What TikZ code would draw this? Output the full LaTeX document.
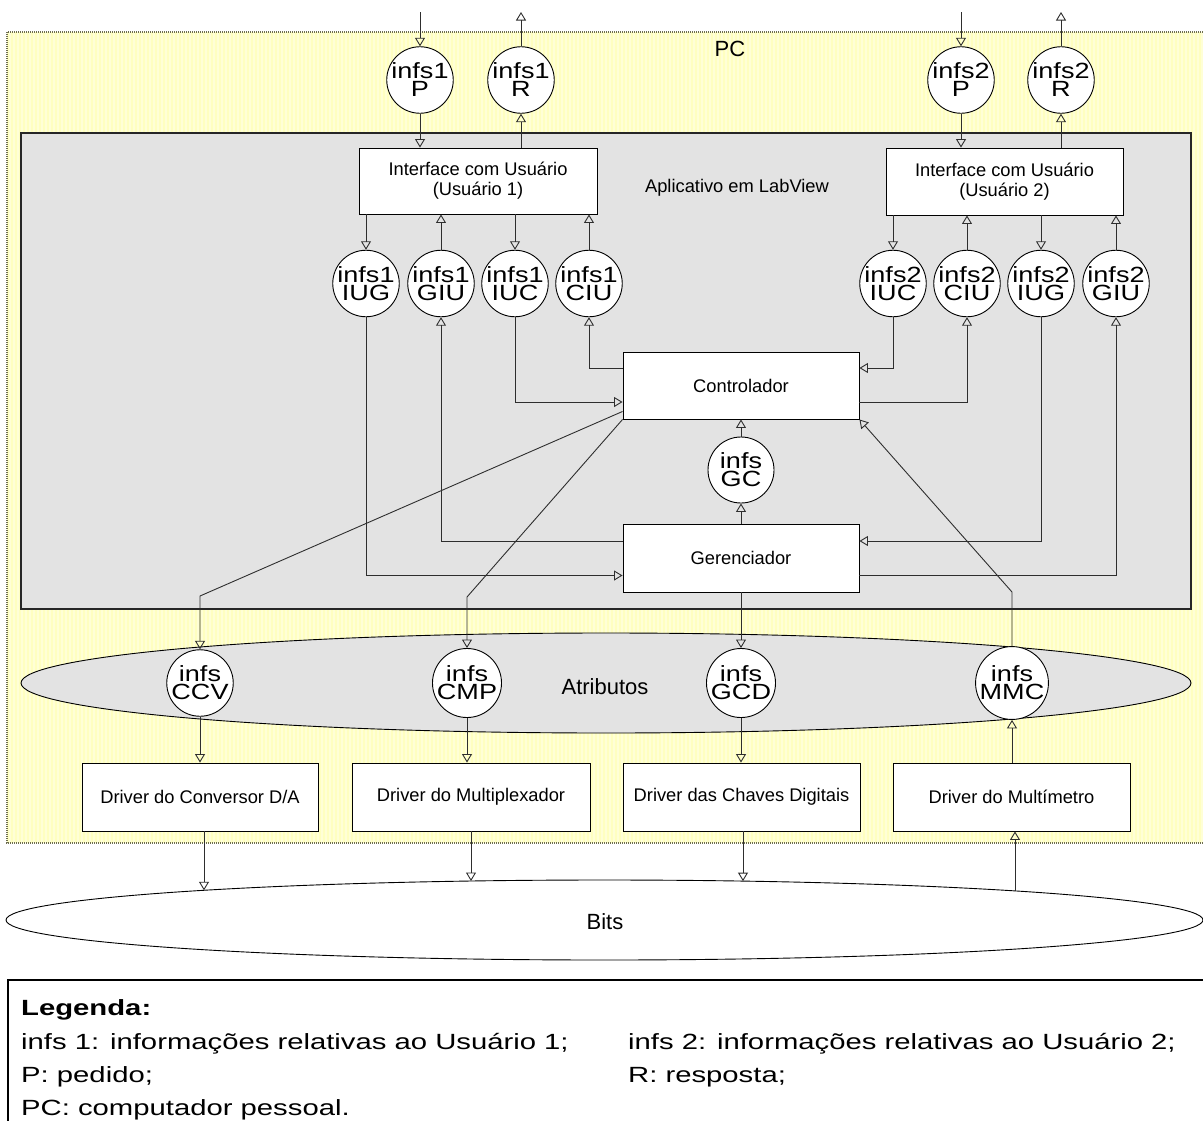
\documentclass[tikz,border=0pt]{standalone}
\usepackage{fontspec}
\setmainfont{Liberation Sans}
\newfontfamily\circfont[FakeStretch=1.23]{Liberation Sans}
\newfontfamily\legfont[FakeStretch=1.33]{Liberation Sans}
\usetikzlibrary{arrows.meta,shapes.geometric,calc}
\definecolor{pcyellow}{HTML}{FFFFC0}
\definecolor{pcstripe}{HTML}{FFFFD6}
\definecolor{pcborder}{HTML}{6E6E50}
\definecolor{appgray}{HTML}{E3E3E3}
\definecolor{wire}{HTML}{2E2E2E}

\begin{document}
\begin{tikzpicture}[x=1pt,y=-1pt,
  infc/.style={circle,draw=black,fill=white,line width=0.9pt,minimum size=66pt,
    inner sep=0pt,align=center,font=\circfont\fontsize{22}{18}\selectfont},
  procbox/.style={rectangle,draw=black,fill=white,line width=0.9pt,inner sep=0pt,
    align=center,font=\fontsize{18.3}{20}\selectfont},
  flow/.style={draw=wire,line width=0.9pt,-{Triangle[open,length=8.5pt,width=10pt]}},
  plaintext/.style={inner sep=0pt,font=\fontsize{22}{26}\selectfont},
  legtext/.style={inner sep=0pt,anchor=base west,font=\legfont\fontsize{22}{26}\selectfont},
]
\clip (0,0) rectangle (1203,1120);
\fill[white] (0,0) rectangle (1203,1120);

% PC area: pale yellow with fine vertical stripes and a dotted border
\fill[pcyellow] (7,32) rectangle (1215,843);
\foreach \sx in {9,13,...,1203} {
  \fill[pcstripe] (\sx,32) rectangle ++(1.6,811);
}
\draw[draw=pcborder,line width=1.2pt,dash pattern=on 1pt off 1pt]
  (7,32) rectangle (1215,843);
\node[plaintext] (pclab) at (730,49) {PC};

% LabView application
\filldraw[fill=appgray,draw=black!85,line width=1.3pt] (21,133) rectangle (1191,609);
\node[inner sep=0pt,font=\fontsize{18.3}{20}\selectfont] (applab) at (737,188) {Aplicativo em LabView};

% attributes and bits
\node[ellipse,draw=black,fill=appgray,line width=0.9pt,inner sep=0pt,
  minimum width=1170,minimum height=100] (attr) at (606,683) {};
\node[plaintext] (attrlab) at (605,687) {Atributos};
\node[ellipse,draw=black,fill=white,line width=0.9pt,inner sep=0pt,
  minimum width=1197,minimum height=80] (bits) at (604.5,920) {};
\node[plaintext] (bitslab) at (605,922) {Bits};

% processing boxes
\node[procbox,minimum width=238,minimum height=66] (ui1) at (478,181) {Interface com Usuário\\(Usuário 1)};
\node[procbox,minimum width=237,minimum height=67] (ui2) at (1004.5,181.5) {Interface com Usuário\\(Usuário 2)};
\node[procbox,minimum width=236,minimum height=67] (ctl) at (741,385.5) {Controlador};
\node[procbox,minimum width=236,minimum height=68] (ger) at (741,558) {Gerenciador};
\node[procbox,minimum width=236,minimum height=68] (drvA) at (200,797) {Driver do Conversor D/A};
\node[procbox,minimum width=238,minimum height=68] (drvB) at (471,797) {Driver do Multiplexador};
\node[procbox,minimum width=237,minimum height=68] (drvC) at (741.5,797) {Driver das Chaves Digitais};
\node[procbox,minimum width=237,minimum height=68] (drvD) at (1011.5,797) {Driver do Multímetro};

% information flows
\node[infc] (p1) at (420,80) {infs1\\P};
\node[infc] (r1) at (521,80) {infs1\\R};
\node[infc] (p2) at (961,80) {infs2\\P};
\node[infc] (r2) at (1061,80) {infs2\\R};
\node[infc] (a1) at (366,283.5) {infs1\\IUG};
\node[infc] (b1) at (441,283.5) {infs1\\GIU};
\node[infc] (c1) at (515,283.5) {infs1\\IUC};
\node[infc] (d1) at (589,283.5) {infs1\\CIU};
\node[infc] (c2) at (893,283.5) {infs2\\IUC};
\node[infc] (d2) at (967,283.5) {infs2\\CIU};
\node[infc] (a2) at (1041,283.5) {infs2\\IUG};
\node[infc] (b2) at (1116,283.5) {infs2\\GIU};
\node[infc] (gc) at (741,470) {infs\\GC};
\node[infc] (ccv) at (200,683) {infs\\CCV};
\node[infc] (cmp) at (467,683) {infs\\CMP};
\node[infc] (gcd) at (741,683) {infs\\GCD};
\node[infc] (mmc) at (1012,683) {infs\\MMC};

% free ends and bends
\coordinate (p1in) at (420,12);
\coordinate (r1out) at (521,12);
\coordinate (p2in) at (961,12);
\coordinate (r2out) at (1061,12);
\coordinate (kCCV) at (200,596);
\coordinate (kCMP) at (467,597);
\coordinate (kMMC) at (1012,592);
\coordinate (bA) at (204,890.3);
\coordinate (bB) at (471,881);
\coordinate (bC) at (743,881.1);
\coordinate (bD) at (1015,890.9);

% user requests and responses
\draw[flow] (p1in) -- (p1.north);
\draw[flow] (p1.south) -- (p1.south |- ui1.north);
\draw[flow] (r1.south |- ui1.north) -- (r1.south);
\draw[flow] (r1.north) -- (r1out);
\draw[flow] (p2in) -- (p2.north);
\draw[flow] (p2.south) -- (p2.south |- ui2.north);
\draw[flow] (r2.south |- ui2.north) -- (r2.south);
\draw[flow] (r2.north) -- (r2out);

% interface 1
\draw[flow] (a1.north |- ui1.south) -- (a1.north);
\draw[flow] (b1.north) -- (b1.north |- ui1.south);
\draw[flow] (c1.north |- ui1.south) -- (c1.north);
\draw[flow] (d1.north) -- (d1.north |- ui1.south);
% interface 2
\draw[flow] (c2.north |- ui2.south) -- (c2.north);
\draw[flow] (d2.north) -- (d2.north |- ui2.south);
\draw[flow] (a2.north |- ui2.south) -- (a2.north);
\draw[flow] (b2.north) -- (b2.north |- ui2.south);

% routes to controller and manager
\draw[flow] (a1.south) |- ($(ger.west)+(0,17.5)$);
\draw[flow] ($(ger.west)+(0,-17)$) -| (b1.south);
\draw[flow] (c1.south) |- ($(ctl.west)+(0,16.5)$);
\draw[flow] ($(ctl.west)+(0,-17.5)$) -| (d1.south);
\draw[flow] (c2.south) |- ($(ctl.east)+(0,-17.5)$);
\draw[flow] ($(ctl.east)+(0,16.5)$) -| (d2.south);
\draw[flow] (a2.south) |- ($(ger.east)+(0,-17)$);
\draw[flow] ($(ger.east)+(0,17.5)$) -| (b2.south);
\draw[flow] (ger.north) -- (gc.south);
\draw[flow] (gc.north) -- (ctl.south);

% attributes
\draw[flow] ($(ctl.south west)+(0,-8)$) -- (kCCV) -- (ccv.north);
\draw[flow] (ctl.south west) -- (kCMP) -- (cmp.north);
\draw[flow] (ger.south) -- (gcd.north);
\draw[flow] (mmc.north) -- (kMMC) -- (ctl.south east);

% drivers
\draw[flow] (ccv.south) -- (ccv.south |- drvA.north);
\draw[flow] (cmp.south) -- (cmp.south |- drvB.north);
\draw[flow] (gcd.south) -- (gcd.south |- drvC.north);
\draw[flow] (mmc.south |- drvD.north) -- (mmc.south);
\draw[flow] (drvA.south -| bA) -- (bA);
\draw[flow] (drvB.south -| bB) -- (bB);
\draw[flow] (drvC.south -| bC) -- (bC);
\draw[flow] (bD) -- (drvD.south -| bD);

% legend
\draw[draw=black,fill=white,line width=1.3pt] (8,980) rectangle (1215,1130);
\node[legtext] (lg0) at (21,1015) {\bfseries Legenda:};
\node[legtext] (lg1) at (21,1049) {infs 1: informações relativas ao Usuário 1;};
\node[legtext] (lg2) at (21,1082) {P: pedido;};
\node[legtext] (lg3) at (21,1115) {PC: computador pessoal.};
\node[legtext] (lg4) at (628,1049) {infs 2: informações relativas ao Usuário 2;};
\node[legtext] (lg5) at (628,1082) {R: resposta;};
\end{tikzpicture}
\end{document}
